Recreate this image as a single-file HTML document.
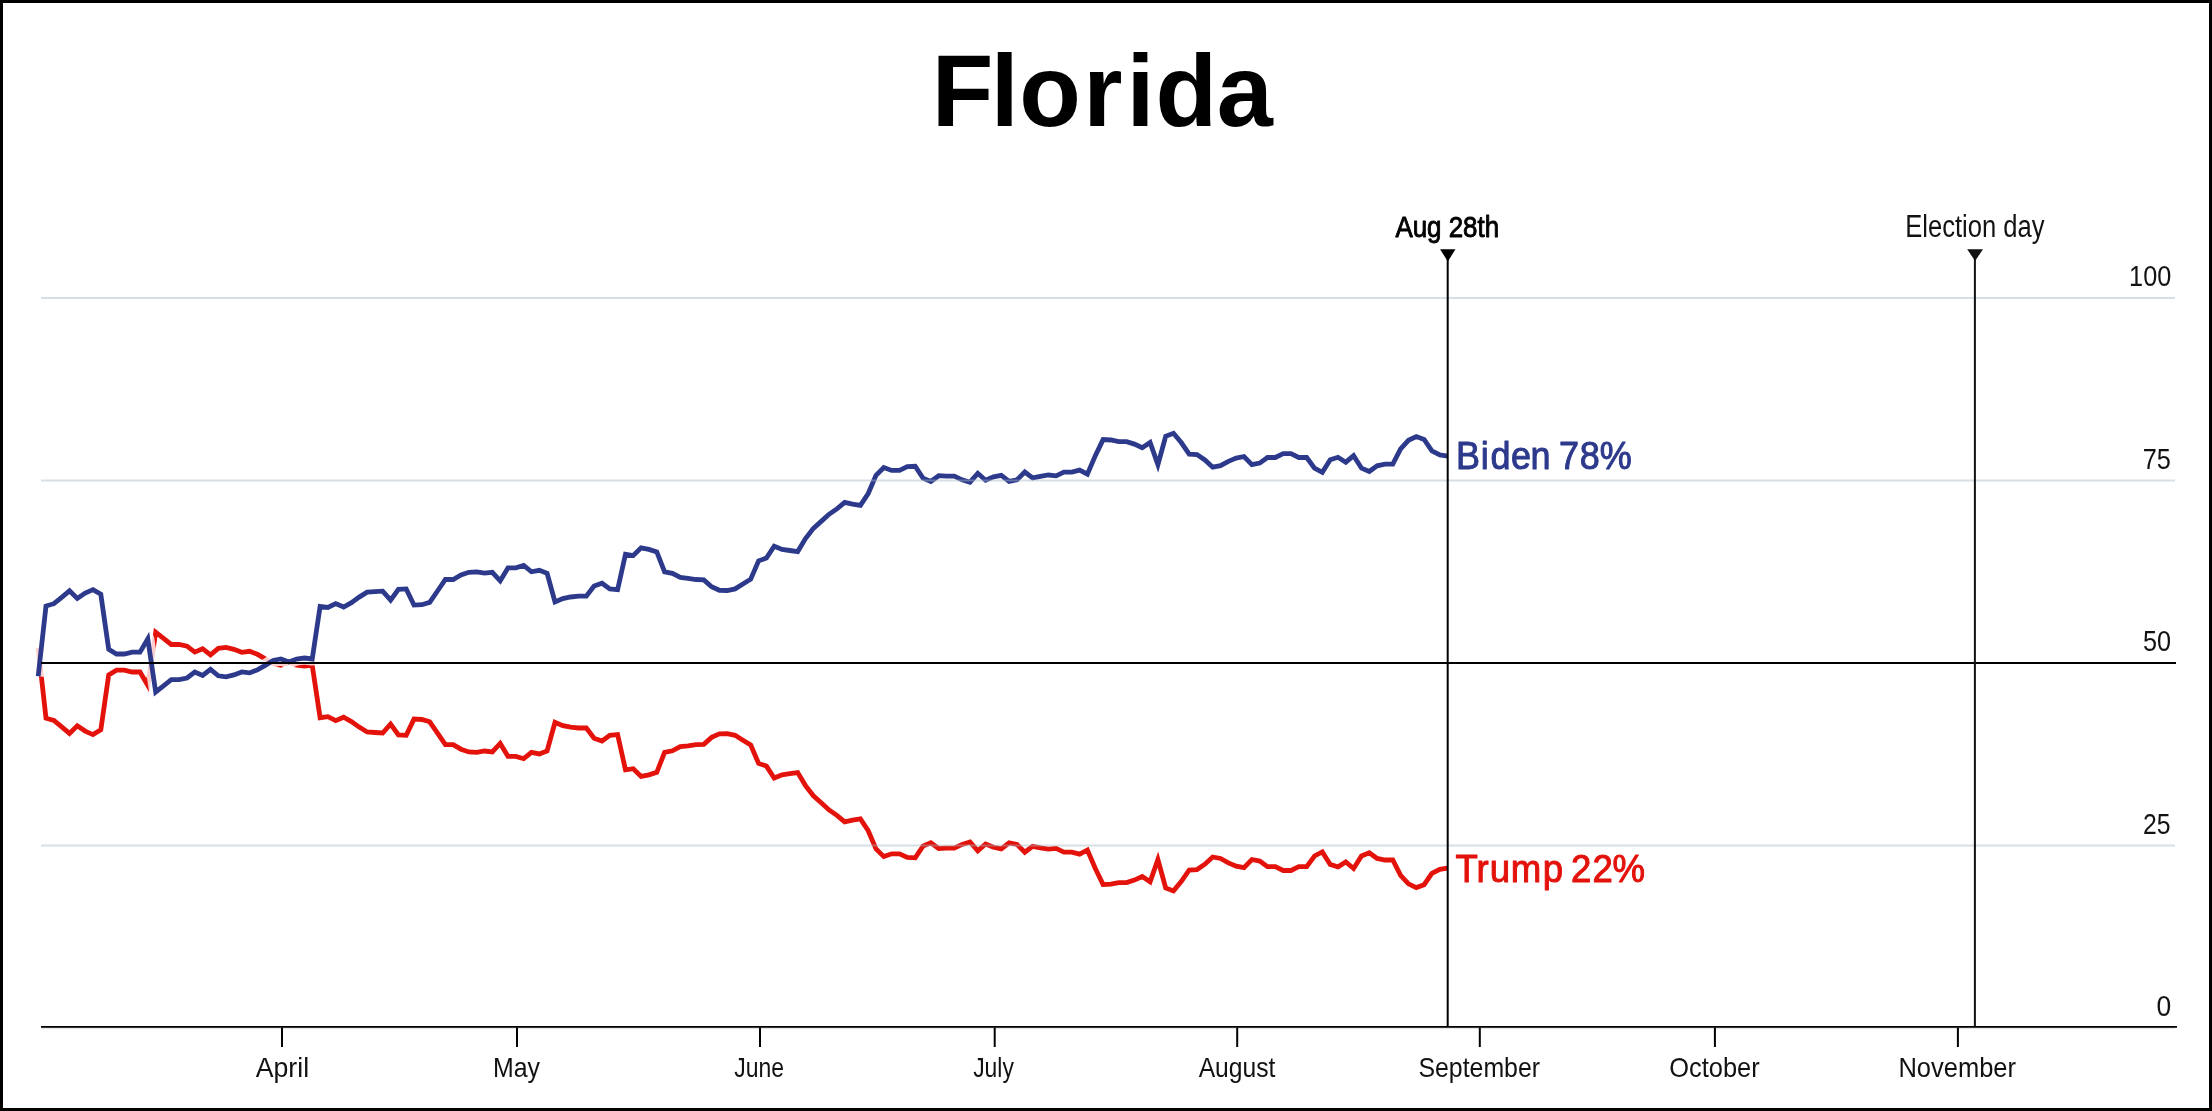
<!DOCTYPE html>
<html><head><meta charset="utf-8"><title>Florida</title>
<style>
html,body{margin:0;padding:0;background:#fff;}
body{width:2212px;height:1111px;overflow:hidden;position:relative;}
.frame{position:absolute;left:0;top:0;width:2206px;height:1105px;border:3px solid #000;background:#fff;}
svg{position:absolute;left:0;top:0;will-change:transform;}
text{font-family:'Liberation Sans', Arial, sans-serif;}
</style></head>
<body>
<div class="frame"></div>
<svg width="2212" height="1111" viewBox="0 0 2212 1111">
<polyline points="38.2,647.9 46.0,718.2 53.9,720.5 61.7,726.9 69.5,733.4 77.3,725.8 85.2,731.1 93.0,734.6 100.8,729.9 108.7,674.9 116.5,670.2 124.3,670.2 132.2,672.0 140.0,672.0 147.8,685.4 155.7,632.2 163.5,638.4 171.3,644.5 179.1,644.5 187.0,646.2 194.8,652.1 202.6,648.7 210.5,654.9 218.3,648.4 226.1,647.4 233.9,649.3 241.8,652.3 249.6,651.3 257.4,654.3 265.3,658.8 273.1,663.7 280.9,665.2 288.8,662.2 296.6,665.2 304.4,666.2 312.2,665.2 320.1,717.7 327.9,716.7 335.7,720.6 343.6,717.2 351.4,721.6 359.2,727.1 367.1,732.0 374.9,732.5 382.7,733.0 390.6,724.0 398.4,734.9 406.2,735.3 414.0,719.1 421.9,719.5 429.7,721.8 437.5,733.2 445.4,744.7 453.2,744.7 461.0,749.2 468.8,751.9 476.7,752.4 484.5,751.0 492.3,751.9 500.2,743.4 508.0,756.4 515.8,756.4 523.7,758.7 531.5,752.4 539.3,753.9 547.1,750.9 555.0,722.3 562.8,725.6 570.6,727.2 578.5,728.0 586.3,728.0 594.1,738.2 602.0,741.0 609.8,735.3 617.6,734.5 625.5,769.9 633.3,768.7 641.1,776.4 648.9,774.8 656.8,772.3 664.6,752.4 672.4,750.8 680.3,746.7 688.1,745.9 695.9,744.7 703.8,744.3 711.6,737.4 719.4,733.9 727.2,733.7 735.1,735.3 742.9,740.2 750.7,745.0 758.6,763.4 766.4,766.1 774.2,778.0 782.1,774.8 789.9,773.7 797.7,772.6 805.5,785.6 813.4,795.8 821.2,802.8 829.0,809.9 836.9,815.3 844.7,821.8 852.5,820.1 860.4,818.9 868.2,830.7 876.0,848.9 883.8,856.6 891.7,853.8 899.5,853.8 907.3,857.5 915.2,857.9 923.0,846.1 930.8,842.8 938.7,848.5 946.5,848.1 954.3,848.1 962.1,844.4 970.0,842.0 977.8,850.9 985.6,844.0 993.5,847.3 1001.3,848.9 1009.1,842.8 1017.0,844.4 1024.8,852.2 1032.6,846.3 1040.4,847.9 1048.3,849.2 1056.1,848.4 1063.9,852.1 1071.8,852.1 1079.6,854.1 1087.4,850.0 1095.2,868.3 1103.1,884.6 1110.9,884.2 1118.7,882.6 1126.6,882.6 1134.4,880.1 1142.2,876.5 1150.1,881.8 1157.9,859.6 1165.7,887.9 1173.5,890.9 1181.4,881.4 1189.2,870.0 1197.0,869.6 1204.9,864.2 1212.7,857.0 1220.5,858.5 1228.4,862.9 1236.2,866.1 1244.0,867.7 1251.9,859.5 1259.7,861.1 1267.5,866.7 1275.3,866.7 1283.2,870.5 1291.0,870.5 1298.8,866.7 1306.7,866.7 1314.5,856.0 1322.3,851.9 1330.2,864.5 1338.0,866.9 1345.8,862.0 1353.6,868.5 1361.5,856.0 1369.3,852.7 1377.1,858.4 1385.0,860.0 1392.8,860.0 1400.6,875.4 1408.5,883.9 1416.3,887.6 1424.1,884.7 1431.9,873.4 1439.8,869.3 1447.6,868.1" fill="none" stroke="#e3120b" stroke-width="4.8" stroke-linejoin="miter" stroke-miterlimit="4"/>
<polyline points="38.2,676.3 46.0,606.0 53.9,603.7 61.7,597.3 69.5,590.8 77.3,598.4 85.2,593.1 93.0,589.6 100.8,594.3 108.7,649.3 116.5,654.0 124.3,654.0 132.2,652.2 140.0,652.2 147.8,638.8 155.7,692.0 163.5,685.8 171.3,679.7 179.1,679.7 187.0,678.0 194.8,672.1 202.6,675.5 210.5,669.3 218.3,675.8 226.1,676.8 233.9,674.9 241.8,671.9 249.6,672.9 257.4,669.9 265.3,665.4 273.1,660.5 280.9,659.0 288.8,662.0 296.6,659.0 304.4,658.0 312.2,659.0 320.1,606.5 327.9,607.5 335.7,603.6 343.6,607.0 351.4,602.6 359.2,597.1 367.1,592.2 374.9,591.7 382.7,591.2 390.6,600.2 398.4,589.3 406.2,588.9 414.0,605.1 421.9,604.7 429.7,602.4 437.5,591.0 445.4,579.5 453.2,579.5 461.0,575.0 468.8,572.3 476.7,571.8 484.5,573.2 492.3,572.3 500.2,580.8 508.0,567.8 515.8,567.8 523.7,565.5 531.5,571.8 539.3,570.3 547.1,573.3 555.0,601.9 562.8,598.6 570.6,597.0 578.5,596.2 586.3,596.2 594.1,586.0 602.0,583.2 609.8,588.9 617.6,589.7 625.5,554.3 633.3,555.5 641.1,547.8 648.9,549.4 656.8,551.9 664.6,571.8 672.4,573.4 680.3,577.5 688.1,578.3 695.9,579.5 703.8,579.9 711.6,586.8 719.4,590.3 727.2,590.5 735.1,588.9 742.9,584.0 750.7,579.2 758.6,560.8 766.4,558.1 774.2,546.2 782.1,549.4 789.9,550.5 797.7,551.6 805.5,538.6 813.4,528.4 821.2,521.4 829.0,514.3 836.9,508.9 844.7,502.4 852.5,504.1 860.4,505.3 868.2,493.5 876.0,475.3 883.8,467.6 891.7,470.4 899.5,470.4 907.3,466.7 915.2,466.3 923.0,478.1 930.8,481.4 938.7,475.7 946.5,476.1 954.3,476.1 962.1,479.8 970.0,482.2 977.8,473.3 985.6,480.2 993.5,476.9 1001.3,475.3 1009.1,481.4 1017.0,479.8 1024.8,472.0 1032.6,477.9 1040.4,476.3 1048.3,475.0 1056.1,475.8 1063.9,472.1 1071.8,472.1 1079.6,470.1 1087.4,474.2 1095.2,455.9 1103.1,439.6 1110.9,440.0 1118.7,441.6 1126.6,441.6 1134.4,444.1 1142.2,447.7 1150.1,442.4 1157.9,464.6 1165.7,436.3 1173.5,433.3 1181.4,442.8 1189.2,454.2 1197.0,454.6 1204.9,460.0 1212.7,467.2 1220.5,465.7 1228.4,461.3 1236.2,458.1 1244.0,456.5 1251.9,464.7 1259.7,463.1 1267.5,457.5 1275.3,457.5 1283.2,453.7 1291.0,453.7 1298.8,457.5 1306.7,457.5 1314.5,468.2 1322.3,472.3 1330.2,459.7 1338.0,457.3 1345.8,462.2 1353.6,455.7 1361.5,468.2 1369.3,471.5 1377.1,465.8 1385.0,464.2 1392.8,464.2 1400.6,448.8 1408.5,440.3 1416.3,436.6 1424.1,439.5 1431.9,450.8 1439.8,454.9 1447.6,456.1" fill="none" stroke="#fff" stroke-opacity="0.8" stroke-width="13" stroke-linejoin="round"/>
<polyline points="38.2,676.3 46.0,606.0 53.9,603.7 61.7,597.3 69.5,590.8 77.3,598.4 85.2,593.1 93.0,589.6 100.8,594.3 108.7,649.3 116.5,654.0 124.3,654.0 132.2,652.2 140.0,652.2 147.8,638.8 155.7,692.0 163.5,685.8 171.3,679.7 179.1,679.7 187.0,678.0 194.8,672.1 202.6,675.5 210.5,669.3 218.3,675.8 226.1,676.8 233.9,674.9 241.8,671.9 249.6,672.9 257.4,669.9 265.3,665.4 273.1,660.5 280.9,659.0 288.8,662.0 296.6,659.0 304.4,658.0 312.2,659.0 320.1,606.5 327.9,607.5 335.7,603.6 343.6,607.0 351.4,602.6 359.2,597.1 367.1,592.2 374.9,591.7 382.7,591.2 390.6,600.2 398.4,589.3 406.2,588.9 414.0,605.1 421.9,604.7 429.7,602.4 437.5,591.0 445.4,579.5 453.2,579.5 461.0,575.0 468.8,572.3 476.7,571.8 484.5,573.2 492.3,572.3 500.2,580.8 508.0,567.8 515.8,567.8 523.7,565.5 531.5,571.8 539.3,570.3 547.1,573.3 555.0,601.9 562.8,598.6 570.6,597.0 578.5,596.2 586.3,596.2 594.1,586.0 602.0,583.2 609.8,588.9 617.6,589.7 625.5,554.3 633.3,555.5 641.1,547.8 648.9,549.4 656.8,551.9 664.6,571.8 672.4,573.4 680.3,577.5 688.1,578.3 695.9,579.5 703.8,579.9 711.6,586.8 719.4,590.3 727.2,590.5 735.1,588.9 742.9,584.0 750.7,579.2 758.6,560.8 766.4,558.1 774.2,546.2 782.1,549.4 789.9,550.5 797.7,551.6 805.5,538.6 813.4,528.4 821.2,521.4 829.0,514.3 836.9,508.9 844.7,502.4 852.5,504.1 860.4,505.3 868.2,493.5 876.0,475.3 883.8,467.6 891.7,470.4 899.5,470.4 907.3,466.7 915.2,466.3 923.0,478.1 930.8,481.4 938.7,475.7 946.5,476.1 954.3,476.1 962.1,479.8 970.0,482.2 977.8,473.3 985.6,480.2 993.5,476.9 1001.3,475.3 1009.1,481.4 1017.0,479.8 1024.8,472.0 1032.6,477.9 1040.4,476.3 1048.3,475.0 1056.1,475.8 1063.9,472.1 1071.8,472.1 1079.6,470.1 1087.4,474.2 1095.2,455.9 1103.1,439.6 1110.9,440.0 1118.7,441.6 1126.6,441.6 1134.4,444.1 1142.2,447.7 1150.1,442.4 1157.9,464.6 1165.7,436.3 1173.5,433.3 1181.4,442.8 1189.2,454.2 1197.0,454.6 1204.9,460.0 1212.7,467.2 1220.5,465.7 1228.4,461.3 1236.2,458.1 1244.0,456.5 1251.9,464.7 1259.7,463.1 1267.5,457.5 1275.3,457.5 1283.2,453.7 1291.0,453.7 1298.8,457.5 1306.7,457.5 1314.5,468.2 1322.3,472.3 1330.2,459.7 1338.0,457.3 1345.8,462.2 1353.6,455.7 1361.5,468.2 1369.3,471.5 1377.1,465.8 1385.0,464.2 1392.8,464.2 1400.6,448.8 1408.5,440.3 1416.3,436.6 1424.1,439.5 1431.9,450.8 1439.8,454.9 1447.6,456.1" fill="none" stroke="#2d3a8c" stroke-width="4.8" stroke-linejoin="miter" stroke-miterlimit="4"/>
<line x1="41" x2="2175" y1="298" y2="298" stroke="rgba(166,181,196,0.45)" stroke-width="2"/>
<line x1="41" x2="2175" y1="480.4" y2="480.4" stroke="rgba(166,181,196,0.45)" stroke-width="2"/>
<line x1="41" x2="2175" y1="845.4" y2="845.4" stroke="rgba(166,181,196,0.45)" stroke-width="2"/>
<line x1="41" x2="2175" y1="1027.8" y2="1027.8" stroke="rgba(166,181,196,0.45)" stroke-width="2"/>
<line x1="41" x2="2176" y1="663" y2="663" stroke="#000" stroke-width="2"/>
<line x1="41" x2="2177" y1="1026.8" y2="1026.8" stroke="#000" stroke-width="1.8"/>
<line x1="282" x2="282" y1="1027.6" y2="1047" stroke="#000" stroke-width="2"/>
<line x1="517" x2="517" y1="1027.6" y2="1047" stroke="#000" stroke-width="2"/>
<line x1="760" x2="760" y1="1027.6" y2="1047" stroke="#000" stroke-width="2"/>
<line x1="994.7" x2="994.7" y1="1027.6" y2="1047" stroke="#000" stroke-width="2"/>
<line x1="1237.2" x2="1237.2" y1="1027.6" y2="1047" stroke="#000" stroke-width="2"/>
<line x1="1479.8" x2="1479.8" y1="1027.6" y2="1047" stroke="#000" stroke-width="2"/>
<line x1="1714.9" x2="1714.9" y1="1027.6" y2="1047" stroke="#000" stroke-width="2"/>
<line x1="1957.9" x2="1957.9" y1="1027.6" y2="1047" stroke="#000" stroke-width="2"/>
<line x1="1447.7" x2="1447.7" y1="255" y2="1026" stroke="#000" stroke-width="2"/>
<polygon points="1440.1,249.2 1455.5,249.2 1447.8,261.5" fill="#000"/>
<line x1="1974.9" x2="1974.9" y1="255" y2="1026" stroke="#121212" stroke-width="2"/>
<polygon points="1967.2,249.2 1983,249.2 1975.1,261" fill="#121212"/>
<text transform="scale(0.9891,1)" x="942.12 1001.80 1030.44 1095.28 1138.81 1168.36 1230.06" y="125.8" font-size="102" font-weight="bold" fill="#000">Florida</text>
<text x="1395.43" y="236.6" font-size="28.8" font-weight="normal" fill="#000" stroke="#000" stroke-width="0.9" stroke-linejoin="round" textLength="103.72" lengthAdjust="spacingAndGlyphs">Aug 28th</text>
<text x="1905.24" y="236.9" font-size="31" font-weight="normal" fill="#121212" textLength="139.29" lengthAdjust="spacingAndGlyphs">Election day</text>
<text x="2129.11" y="285.9" font-size="29" font-weight="normal" fill="#121212" textLength="42.10" lengthAdjust="spacingAndGlyphs">100</text>
<text x="2142.65" y="468.7" font-size="29" font-weight="normal" fill="#121212" textLength="28.15" lengthAdjust="spacingAndGlyphs">75</text>
<text x="2142.97" y="650.9" font-size="29" font-weight="normal" fill="#121212" textLength="28.06" lengthAdjust="spacingAndGlyphs">50</text>
<text x="2142.97" y="834.0" font-size="29" font-weight="normal" fill="#121212" textLength="27.55" lengthAdjust="spacingAndGlyphs">25</text>
<text x="2156.45" y="1015.9" font-size="29" font-weight="normal" fill="#121212" textLength="14.71" lengthAdjust="spacingAndGlyphs">0</text>
<text x="255.76" y="1076.8" font-size="28.5" font-weight="normal" fill="#121212" textLength="53.32" lengthAdjust="spacingAndGlyphs">April</text>
<text x="493.02" y="1076.8" font-size="28.5" font-weight="normal" fill="#121212" textLength="47.02" lengthAdjust="spacingAndGlyphs">May</text>
<text x="734.22" y="1076.8" font-size="28.5" font-weight="normal" fill="#121212" textLength="49.82" lengthAdjust="spacingAndGlyphs">June</text>
<text x="973.14" y="1076.8" font-size="28.5" font-weight="normal" fill="#121212" textLength="40.70" lengthAdjust="spacingAndGlyphs">July</text>
<text x="1198.67" y="1076.8" font-size="28.5" font-weight="normal" fill="#121212" textLength="76.75" lengthAdjust="spacingAndGlyphs">August</text>
<text x="1418.46" y="1076.8" font-size="28.5" font-weight="normal" fill="#121212" textLength="121.56" lengthAdjust="spacingAndGlyphs">September</text>
<text x="1669.25" y="1076.8" font-size="28.5" font-weight="normal" fill="#121212" textLength="90.40" lengthAdjust="spacingAndGlyphs">October</text>
<text x="1898.43" y="1076.8" font-size="28.5" font-weight="normal" fill="#121212" textLength="117.59" lengthAdjust="spacingAndGlyphs">November</text>
<text transform="scale(0.9358,1)" x="1555.81 1582.45 1592.79 1614.64 1635.44 1658.73 1665.91 1688.10 1709.43" y="469.3" font-size="38.5" font-weight="normal" fill="#2d3a8c" stroke="#2d3a8c" stroke-width="1.0" stroke-linejoin="round">Biden 78%</text>
<text transform="scale(0.9502,1)" x="1531.79 1553.99 1567.83 1590.03 1623.64 1645.78 1653.44 1675.98 1697.10" y="881.8" font-size="38.5" font-weight="normal" fill="#e3120b" stroke="#e3120b" stroke-width="1.0" stroke-linejoin="round">Trump 22%</text>
</svg>
</body></html>
